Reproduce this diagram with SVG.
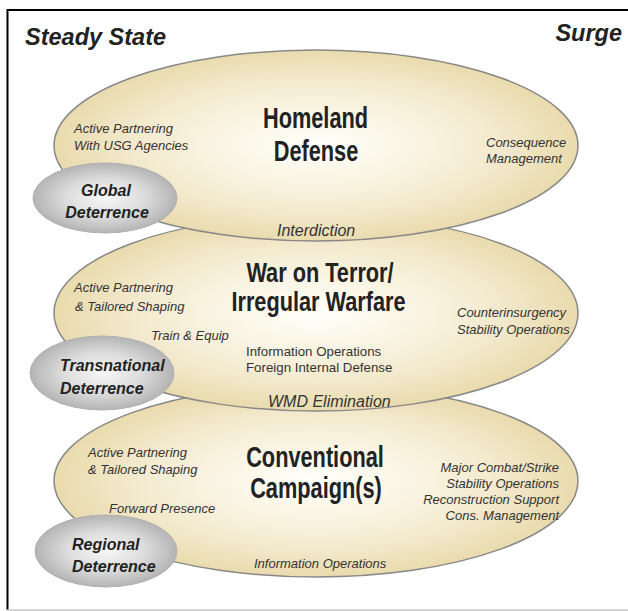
<svg xmlns="http://www.w3.org/2000/svg" width="628" height="611" viewBox="0 0 628 611">
<defs>
<radialGradient id="tan" cx="0.5" cy="0.5" r="0.5">
<stop offset="0" stop-color="#fffffb"/>
<stop offset="0.3" stop-color="#fbf7e8"/>
<stop offset="0.7" stop-color="#f3e9cd"/>
<stop offset="1" stop-color="#e9dbad"/>
</radialGradient>
<radialGradient id="grey" cx="0.5" cy="0.5" r="0.5">
<stop offset="0" stop-color="#f7f7f7"/>
<stop offset="0.55" stop-color="#dcdcdc"/>
<stop offset="1" stop-color="#b4b4b4"/>
</radialGradient>
<style>
.big{fill:url(#tan);stroke:#888;stroke-width:1.5}
.small{fill:url(#grey);stroke:#b0b0b0;stroke-width:1}
.ttl{font-family:"Liberation Sans",Arial,sans-serif;font-weight:bold;font-style:italic;font-size:23.5px;fill:#222}
.head{font-family:"Liberation Sans",Arial,sans-serif;font-weight:bold;font-size:29px;fill:#222;text-anchor:middle}
.head2{font-family:"Liberation Sans",Arial,sans-serif;font-weight:bold;font-size:27.5px;fill:#222;text-anchor:middle}
.it{font-family:"Liberation Sans",Arial,sans-serif;font-style:italic;font-size:13px;fill:#333}
.it16{font-family:"Liberation Sans",Arial,sans-serif;font-style:italic;font-size:16px;fill:#333}
.rg{font-family:"Liberation Sans",Arial,sans-serif;font-size:13.3px;fill:#333}
.det{font-family:"Liberation Sans",Arial,sans-serif;font-weight:bold;font-style:italic;font-size:16px;fill:#222}
</style>
</defs>
<rect width="628" height="611" fill="#fff"/>
<path d="M628,10 H7.5 V610" fill="none" stroke="#000" stroke-width="2"/>
<line x1="7" y1="610" x2="628" y2="610" stroke="#c8c8c8" stroke-width="1.5"/>
<text class="ttl" x="25" y="45">Steady State</text>
<text class="ttl" x="622" y="41" text-anchor="end">Surge</text>
<g id="connectors"/>
<g id="conventional">
<ellipse class="big" cx="316" cy="481" rx="262" ry="96"/>
<text class="head" transform="translate(315,467) scale(0.75,1)">Conventional</text>
<text class="head" transform="translate(316,498) scale(0.75,1)">Campaign(s)</text>
<text class="it" x="88" y="457">Active Partnering</text>
<text class="it" x="88" y="474">&amp; Tailored Shaping</text>
<text class="it" x="109" y="513">Forward Presence</text>
<text class="it" x="559" y="472" text-anchor="end">Major Combat/Strike</text>
<text class="it" x="559" y="488" text-anchor="end">Stability Operations</text>
<text class="it" x="559" y="504" text-anchor="end">Reconstruction Support</text>
<text class="it" x="559" y="520" text-anchor="end">Cons. Management</text>
<text class="it" x="254" y="568">Information Operations</text>
</g>
<g id="war-on-terror">
<ellipse class="big" cx="316" cy="313" rx="262" ry="98"/>
<text class="head2" transform="translate(320,282) scale(0.79,1)">War on Terror/</text>
<text class="head2" transform="translate(318.5,311) scale(0.79,1)">Irregular Warfare</text>
<text class="it" x="74" y="292">Active Partnering</text>
<text class="it" x="75" y="311">&amp; Tailored Shaping</text>
<text class="it" x="151" y="340">Train &amp; Equip</text>
<text class="it" x="457" y="317">Counterinsurgency</text>
<text class="it" x="457" y="334">Stability Operations</text>
<text class="rg" x="246" y="356">Information Operations</text>
<text class="rg" x="246" y="372">Foreign Internal Defense</text>
<text class="it16" x="268" y="407">WMD Elimination</text>
</g>
<g id="homeland-defense">
<ellipse class="big" cx="316" cy="145.5" rx="262" ry="95.5"/>
<text class="head" transform="translate(315.5,128) scale(0.75,1)">Homeland</text>
<text class="head" transform="translate(316,161) scale(0.75,1)">Defense</text>
<text class="it" x="74" y="133">Active Partnering</text>
<text class="it" x="74" y="150">With USG Agencies</text>
<text class="it" x="486" y="147">Consequence</text>
<text class="it" x="486" y="163">Management</text>
<text class="it16" x="277" y="236">Interdiction</text>
</g>
<g id="global-deterrence">
<ellipse class="small" cx="105" cy="198" rx="72" ry="35"/>
<text class="det" x="106" y="196" text-anchor="middle">Global</text>
<text class="det" x="107" y="218" text-anchor="middle">Deterrence</text>
</g>
<g id="transnational-deterrence">
<ellipse class="small" cx="102" cy="373" rx="72" ry="37"/>
<text class="det" x="60" y="371">Transnational</text>
<text class="det" x="60" y="394">Deterrence</text>
</g>
<g id="regional-deterrence">
<ellipse class="small" cx="106" cy="551" rx="71" ry="36"/>
<text class="det" x="72" y="550">Regional</text>
<text class="det" x="72" y="572">Deterrence</text>
</g>
</svg>
